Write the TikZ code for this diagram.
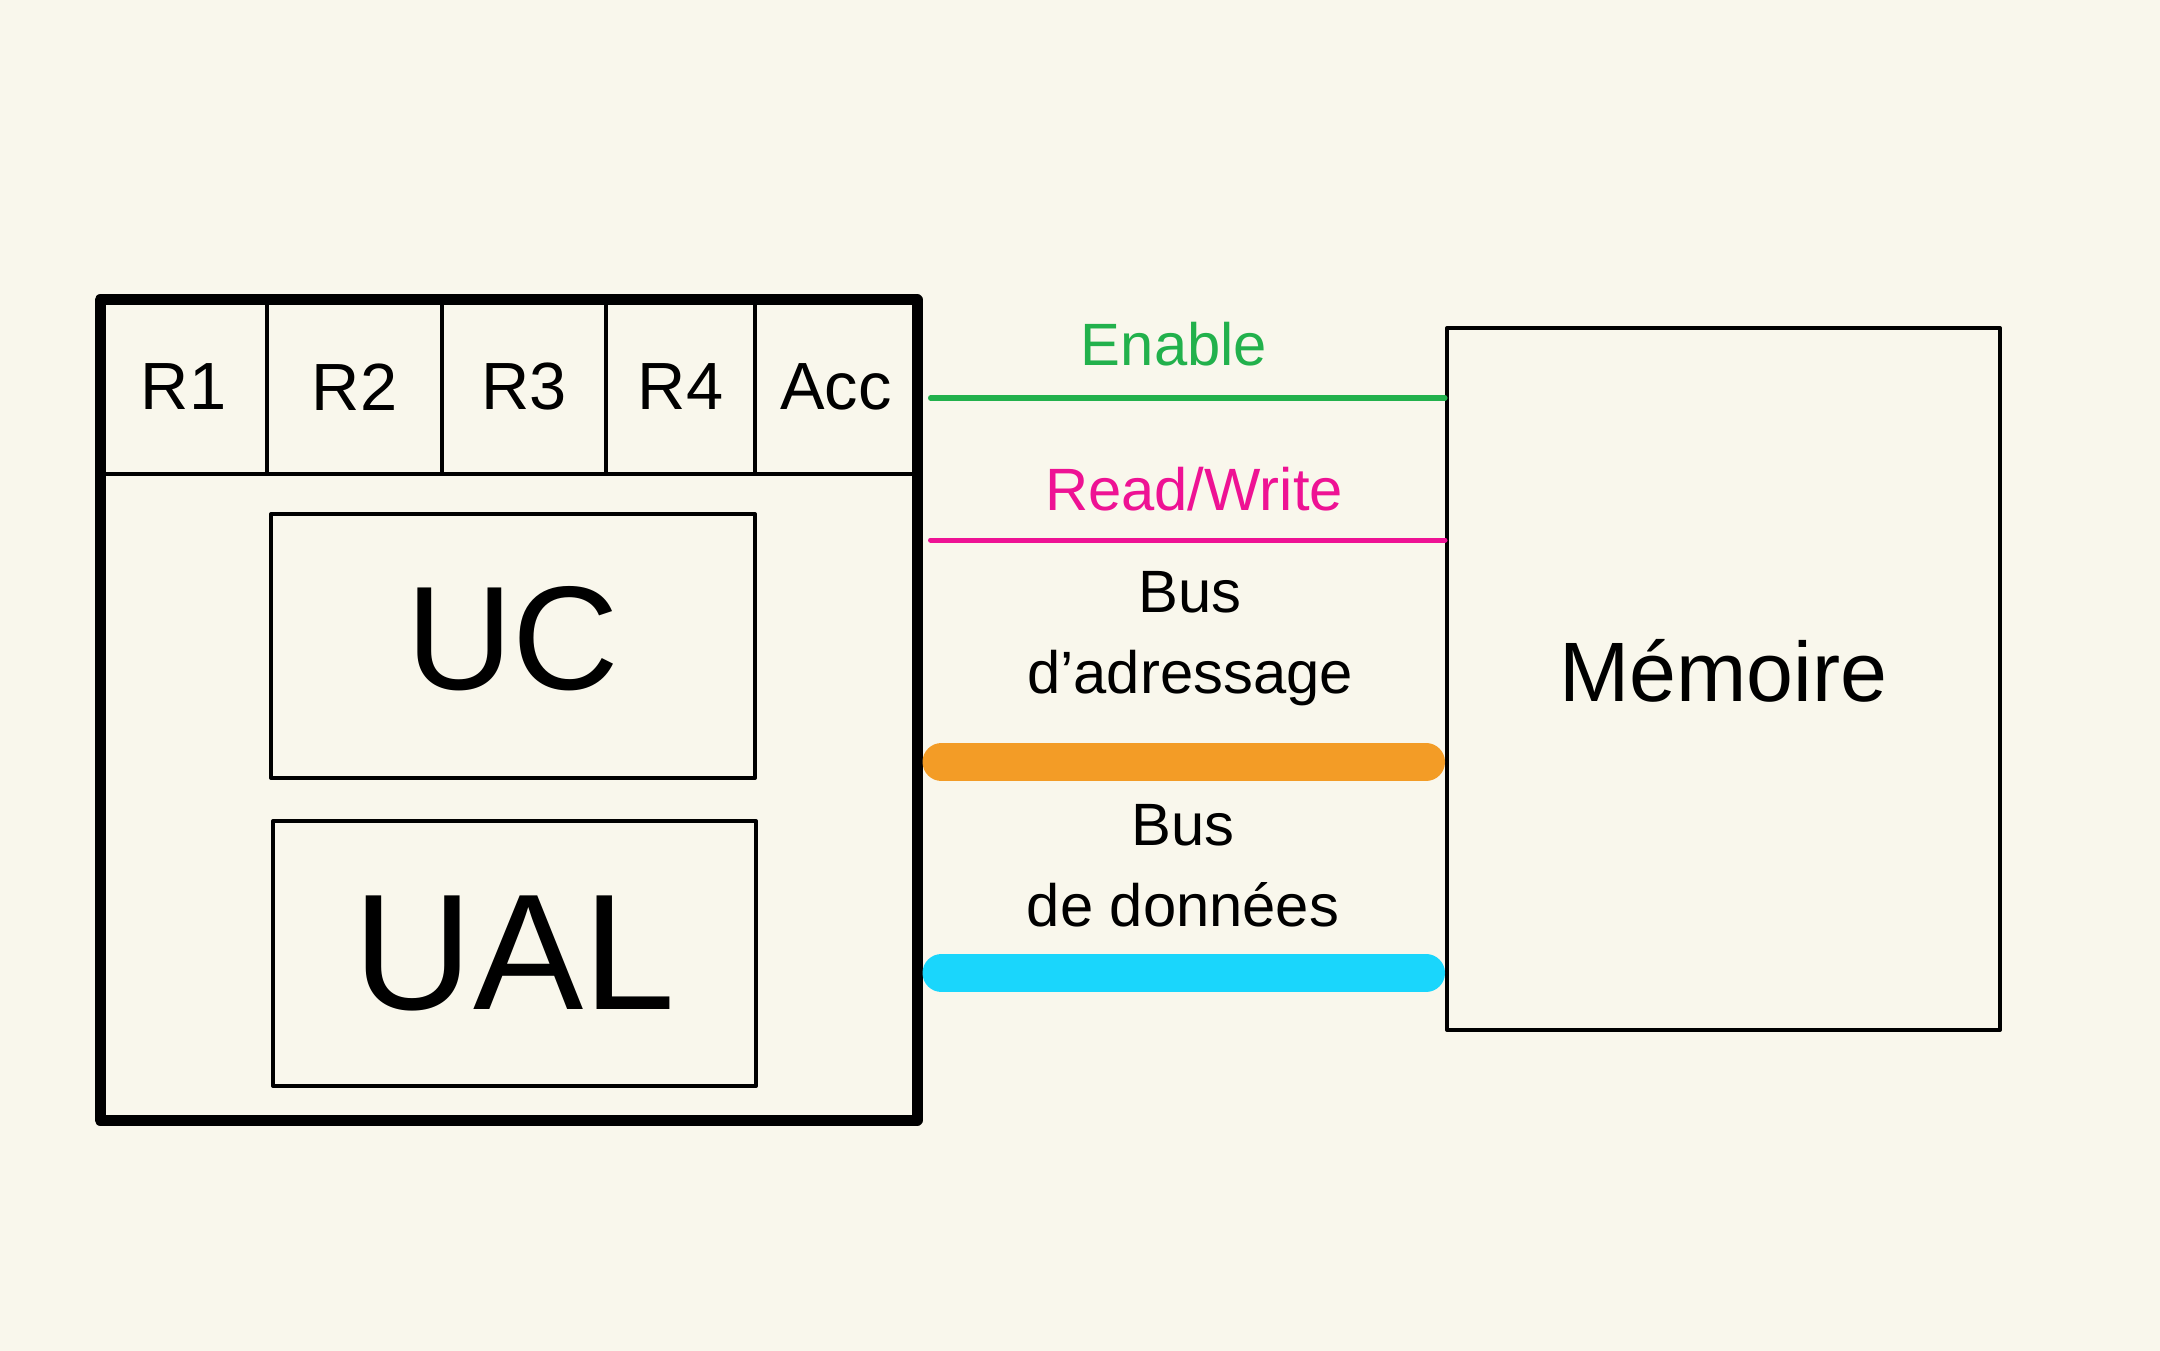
\documentclass[tikz,border=0pt]{standalone}
\usepackage{fontspec}
\setmainfont{Liberation Sans}
\usetikzlibrary{positioning, calc}

\definecolor{paper}{RGB}{249,247,236}
\definecolor{enablegreen}{RGB}{34,177,76}
\definecolor{rwpink}{RGB}{238,18,148}
\definecolor{addrorange}{RGB}{243,156,38}
\definecolor{datacyan}{RGB}{26,214,252}

\begin{document}
\begin{tikzpicture}[
    cell/.style={draw, rectangle, line width=0.04cm, inner sep=0pt, minimum height=1.74cm, font=\fontsize{19}{21}\selectfont},
    unit/.style={draw, rectangle, line width=0.04cm, inner sep=0pt},
    ctrl/.style={line width=0.05cm, line cap=round, shorten <=0.08cm},
    bus/.style={line width=0.38cm, line cap=round, shorten <=0.19cm, shorten >=0.19cm},
    lbl/.style={align=center, font=\fontsize{17}{23}\selectfont},
    line join=round
  ]
  \useasboundingbox (0,0) rectangle (21.6,13.5);
  \fill[paper] (-0.1,-0.1) rectangle (21.7,13.6);

  % Registres
  \node[cell, minimum width=1.67cm] (r1) at (1.835,9.63) {R1};
  \node[cell, minimum width=1.75cm] (r2) at (3.545,9.63) {R2};
  \node[cell, minimum width=1.64cm] (r3) at (5.24,9.63) {R3};
  \node[cell, minimum width=1.49cm] (r4) at (6.805,9.63) {R4};
  \node[cell, minimum width=1.62cm] (acc) at (8.36,9.63) {Acc};

  % Processeur
  \node[draw, line width=0.11cm, minimum width=8.17cm, minimum height=8.2cm] (cpu) at (5.085,6.40) {};
  \node[unit, minimum width=4.84cm, minimum height=2.64cm, font=\fontsize{42}{46}\selectfont] (uc) at (5.13,7.04) {\raisebox{0.16cm}{UC}};
  \node[unit, minimum width=4.83cm, minimum height=2.65cm, font=\fontsize{47}{50}\selectfont] (ual) at (5.145,3.965) {UAL};

  % Memoire
  \node[unit, minimum width=5.53cm, minimum height=7.02cm, font=\fontsize{24}{26}\selectfont] (mem) at (17.235,6.71) {\raisebox{0.18cm}{Mémoire}};

  % Liaisons
  \coordinate (yen) at (0,9.52);
  \coordinate (yrw) at (0,8.10);
  \coordinate (yad) at (0,5.88);
  \coordinate (yda) at (0,3.77);
  \draw[ctrl, enablegreen] (cpu.east |- yen) -- (mem.west |- yen);
  \draw[ctrl, rwpink] (cpu.east |- yrw) -- (mem.west |- yrw);
  \draw[bus, addrorange] (cpu.east |- yad) -- (mem.west |- yad);
  \draw[bus, datacyan] (cpu.east |- yda) -- (mem.west |- yda);

  % Etiquettes
  \node[lbl, text=enablegreen] (en) at (11.74,10.06) {Enable};
  \node[lbl, text=rwpink] (rw) at (11.94,8.61) {Read/Write};
  \node[lbl] (ad) at (11.90,7.11) {Bus\\d'adressage};
  \node[lbl] (da) at (11.83,4.84) {Bus\\de données};
\end{tikzpicture}
\end{document}
